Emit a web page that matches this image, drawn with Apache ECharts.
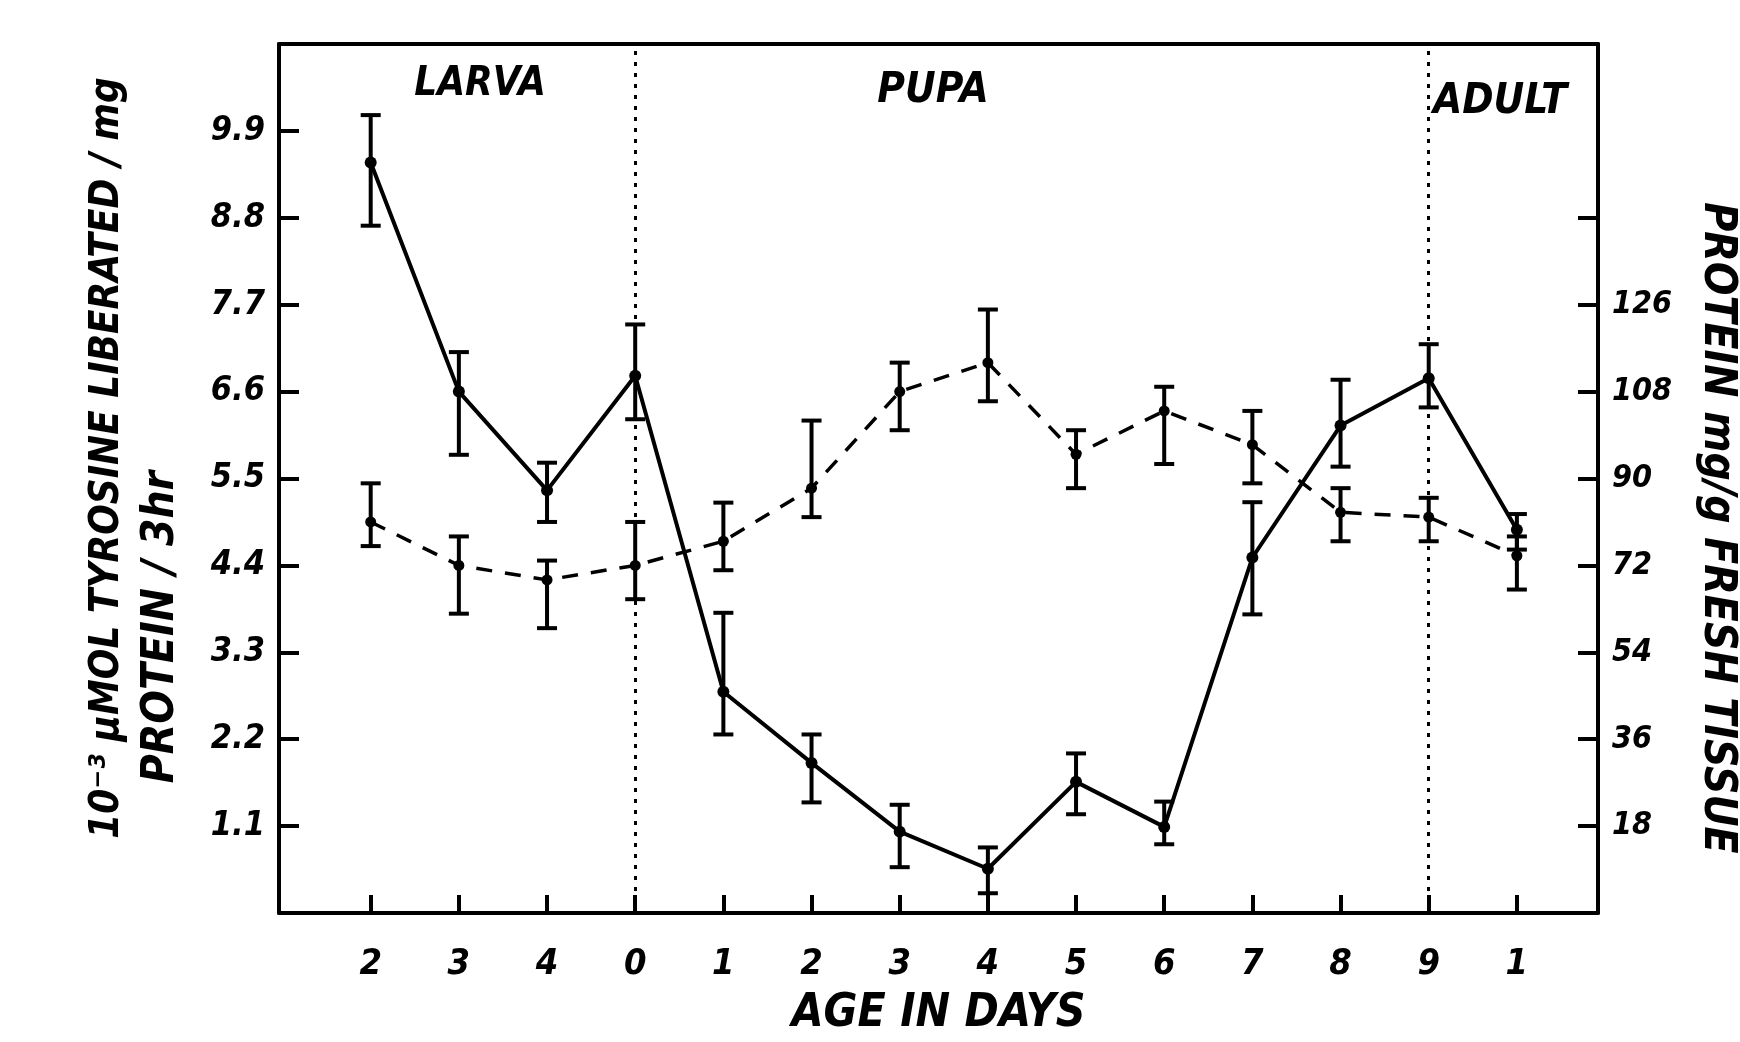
<!DOCTYPE html>
<html><head><meta charset="utf-8">
<script src="https://cdn.jsdelivr.net/npm/echarts@6/dist/echarts.min.js"></script>
<style>html,body{margin:0;padding:0;background:#fff}#c{width:1740px;height:1042px}</style>
</head><body><div id="c"></div>
<script>
// ---- data ----
const CATEGORIES = ['2','3','4','0','1','2','3','4','5','6','7','8','9','1'];
const STAGES = ['LARVA', 'PUPA', 'ADULT'];
const STAGE_BOUNDARIES = [3, 12];            // category index of the dotted dividers
// solid line: 10^-3 umol tyrosine liberated / mg protein / 3hr (left axis)
const TYROSINE      = [9.5, 6.6, 5.35, 6.8, 2.8, 1.9, 1.03, 0.56, 1.66, 1.09, 4.5, 6.17, 6.77, 4.85];
const TYROSINE_LOW  = [8.7, 5.8, 4.95, 6.25, 2.26, 1.4, 0.58, 0.25, 1.25, 0.87, 3.78, 5.65, 6.4, 4.6];
const TYROSINE_HIGH = [10.1, 7.1, 5.7, 7.45, 3.8, 2.26, 1.37, 0.83, 2.02, 1.41, 5.2, 6.75, 7.2, 5.05];
// dashed line: protein mg/g fresh tissue (right axis)
const PROTEIN      = [81, 72, 69, 72, 77, 88, 108, 114, 95, 104, 97, 83, 82, 74];
const PROTEIN_LOW  = [76, 62, 59, 65, 71, 82, 100, 106, 88, 93, 89, 77, 77, 67];
const PROTEIN_HIGH = [89, 78, 73, 81, 85, 102, 114, 125, 100, 109, 104, 88, 86, 78];
const LEFT_TICKS  = [1.1, 2.2, 3.3, 4.4, 5.5, 6.6, 7.7, 8.8, 9.9];
const RIGHT_LABELS = [18, 36, 54, 72, 90, 108, 126];
const RIGHT_TICKS  = [18, 36, 54, 72, 90, 108, 126, 144];
const X_TITLE = 'AGE IN DAYS';
const LEFT_TITLE_1 = '10\u207B\u00B3 \u03BCMOL TYROSINE LIBERATED / mg';
const LEFT_TITLE_2 = 'PROTEIN / 3hr';
const RIGHT_TITLE = 'PROTEIN mg/g FRESH TISSUE';

// ---- chart ----
const FONT = "'DejaVu Sans Condensed', 'Liberation Sans Narrow', 'DejaVu Sans', sans-serif";
const INK = '#000';
const idx = CATEGORIES.map((_, i) => i);
const chart = echarts.init(document.getElementById('c'), null, {renderer: 'canvas'});

function errorBars(low, high) {
  return idx.map(i => [i, low[i], high[i]]);
}
function renderErr(params, api) {
  const x = api.value(0);
  const a = api.coord([x, api.value(1)]);
  const b = api.coord([x, api.value(2)]);
  const w = 10;
  const st = {stroke: INK, lineWidth: 4};
  return {type: 'group', children: [
    {type: 'line', shape: {x1: a[0], y1: a[1], x2: b[0], y2: b[1]}, style: st},
    {type: 'line', shape: {x1: a[0] - w, y1: a[1], x2: a[0] + w, y2: a[1]}, style: st},
    {type: 'line', shape: {x1: b[0] - w, y1: b[1], x2: b[0] + w, y2: b[1]}, style: st}
  ]};
}

const labelStyle = {color: INK, fontFamily: FONT, fontWeight: 'bold', fontStyle: 'italic'};
const textStyle = (size) => ({fontSize: size, fill: INK, align: 'center', verticalAlign: 'middle',
  fontFamily: FONT, fontWeight: 'bold', fontStyle: 'italic'});
const X_MIN = -1.04, X_MAX = 13.92;
const axisLineStyle = {show: true, onZero: false, lineStyle: {color: INK, width: 4}};

chart.setOption({
  backgroundColor: '#fff',
  animation: false,
  grid: {left: 279, right: 142, top: 44, bottom: 124},
  xAxis: [{
    type: 'value', min: X_MIN, max: X_MAX, position: 'bottom',
    splitLine: {show: false},
    axisLine: axisLineStyle,
    axisTick: {show: true, inside: true, length: 18, lineStyle: {color: INK, width: 4}, customValues: idx},
    axisLabel: Object.assign({fontSize: 36, margin: 34, customValues: idx,
      formatter: v => CATEGORIES[Math.round(v)]}, labelStyle),
    name: X_TITLE, nameLocation: 'middle', nameGap: 78,
    nameTextStyle: Object.assign({fontSize: 46}, labelStyle)
  }, {
    type: 'value', min: X_MIN, max: X_MAX, position: 'top',
    splitLine: {show: false},
    axisLine: axisLineStyle,
    axisTick: {show: false}, axisLabel: {show: false}
  }],
  yAxis: [{
    type: 'value', min: 0, max: 11, position: 'left',
    splitLine: {show: false},
    axisLine: axisLineStyle,
    axisTick: {show: true, inside: true, length: 20, lineStyle: {color: INK, width: 4}, customValues: LEFT_TICKS},
    axisLabel: Object.assign({fontSize: 34, margin: 14, customValues: LEFT_TICKS,
      formatter: v => v.toFixed(1)}, labelStyle)
  }, {
    type: 'value', min: 0, max: 180, position: 'right',
    splitLine: {show: false},
    axisLine: axisLineStyle,
    axisTick: {show: true, inside: true, length: 20, lineStyle: {color: INK, width: 4}, customValues: RIGHT_TICKS},
    axisLabel: Object.assign({fontSize: 32, margin: 14, customValues: RIGHT_LABELS,
      formatter: v => String(v)}, labelStyle)
  }],
  graphic: [
    {type: 'text', x: 108, y: 458, rotation: Math.PI / 2, style: Object.assign({text: LEFT_TITLE_1}, textStyle(40))},
    {type: 'text', x: 162, y: 627, rotation: Math.PI / 2, style: Object.assign({text: LEFT_TITLE_2}, textStyle(44))},
    {type: 'text', x: 1716, y: 528, rotation: -Math.PI / 2, style: Object.assign({text: RIGHT_TITLE}, textStyle(44))},
    {type: 'text', x: 480, y: 85, style: Object.assign({text: STAGES[0]}, textStyle(40))},
    {type: 'text', x: 933, y: 91, style: Object.assign({text: STAGES[1]}, textStyle(42))},
    {type: 'text', x: 1500, y: 102, style: Object.assign({text: STAGES[2]}, textStyle(42))}
  ],
  series: [
    {
      name: 'Tyrosine liberated', type: 'line', xAxisIndex: 0, yAxisIndex: 0,
      data: idx.map(i => [i, TYROSINE[i]]),
      symbol: 'circle', symbolSize: 12,
      itemStyle: {color: INK},
      lineStyle: {color: INK, width: 4},
      z: 5,
      markLine: {
        silent: true, symbol: 'none', label: {show: false},
        lineStyle: {color: INK, width: 3, type: [4, 7]},
        data: STAGE_BOUNDARIES.map(v => ({xAxis: v}))
      }
    },
    {
      name: 'Tyrosine error', type: 'custom', xAxisIndex: 0, yAxisIndex: 0,
      data: errorBars(TYROSINE_LOW, TYROSINE_HIGH), renderItem: renderErr, z: 4
    },
    {
      name: 'Protein', type: 'line', xAxisIndex: 0, yAxisIndex: 1,
      data: idx.map(i => [i, PROTEIN[i]]),
      symbol: 'circle', symbolSize: 11,
      itemStyle: {color: INK},
      lineStyle: {color: INK, width: 3.5, type: [16, 13]},
      z: 5
    },
    {
      name: 'Protein error', type: 'custom', xAxisIndex: 0, yAxisIndex: 1,
      data: errorBars(PROTEIN_LOW, PROTEIN_HIGH), renderItem: renderErr, z: 4
    }
  ]
});
</script></body></html>
